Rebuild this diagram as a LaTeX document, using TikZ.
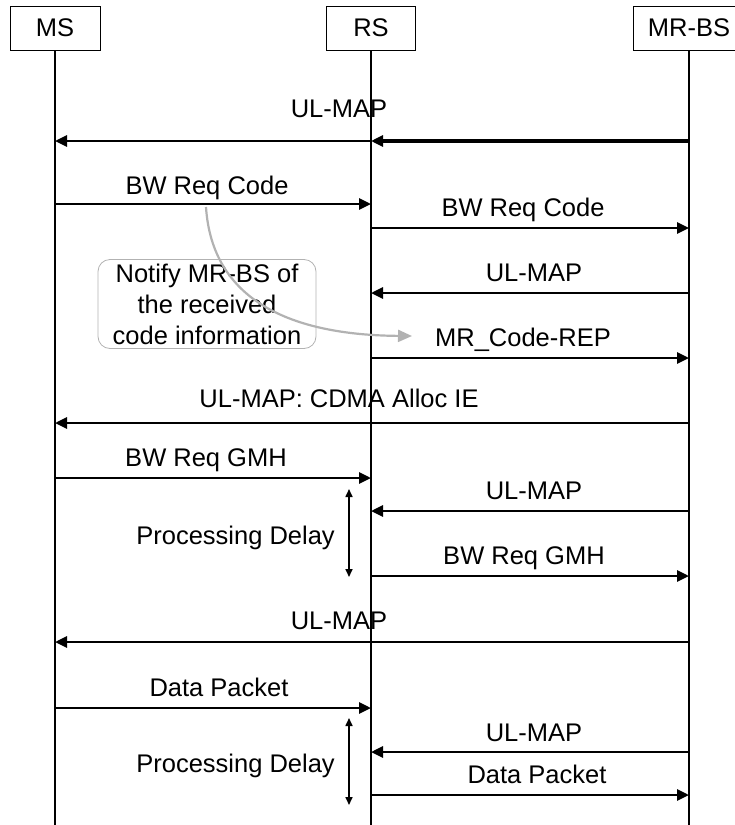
\documentclass[tikz,border=0pt]{standalone}
\usepackage{fontspec}
\setmainfont{Liberation Sans}
\usetikzlibrary{arrows.meta}
\definecolor{notegray}{RGB}{178,178,178}

\begin{document}
\begin{tikzpicture}[x=1pt,y=-1pt,
  entity/.style={draw,line width=0.8pt,minimum width=#1,minimum height=44pt,inner sep=0pt,font=\fontsize{25.5}{30}\selectfont},
  life/.style={line width=1.1pt},
  msg/.style={line width=2.8pt,-{Triangle[length=12pt,width=11pt]}},
  lbl/.style={anchor=base,inner sep=0pt,font=\fontsize{25.5}{30}\selectfont},
  delay/.style={line width=1.6pt,{Triangle[length=8pt,width=7pt]}-{Triangle[length=8pt,width=7pt]}},
  notebox/.style={draw=notegray,line width=0.8pt,rounded corners=12pt,minimum width=218pt,minimum height=89pt,inner sep=0pt,align=center,font=\fontsize{25.5}{31}\selectfont}]
  \useasboundingbox (0,0) rectangle (735,825);
  \clip (0,0) rectangle (735,825);
  % lifeline heads
  \node[entity=90pt] (ms) at (55,28) {MS};
  \node[entity=89pt] (rs) at (371,28) {RS};
  \node[entity=112pt] (bs) at (689,28) {MR-BS};
  % lifelines
  \coordinate (bottom) at (0,825);
  \foreach \h in {ms,bs} \draw[life] (\h.south) -- (\h.south |- bottom);
  \draw[life,line width=2pt] (rs.south) -- (rs.south |- bottom);
  % message points on each lifeline
  \foreach \n/\y in {1/141,2/204,3/228,4/293,5/358,6/423,7/478,8/511,9/576,10/642,11/708,12/752,13/795} {
    \coordinate (ms\n) at (55,\y);
    \coordinate (rs\n) at (371,\y);
    \coordinate (bs\n) at (689,\y);
  }
  % messages
  \draw[msg,line width=3.6pt] (bs1) -- (rs1);
  \draw[msg] (rs1) -- (ms1);
  \node[lbl] (l1) at (339,117) {UL-MAP};
  \draw[msg] (ms2) -- (rs2);
  \node[lbl] (l2) at (207,194) {BW Req Code};
  \draw[msg] (rs3) -- (bs3);
  \node[lbl] (l3) at (523,216) {BW Req Code};
  \draw[msg] (bs4) -- (rs4);
  \node[lbl] (l4) at (534,281) {UL-MAP};
  \draw[msg] (rs5) -- (bs5);
  \node[lbl] (l5) at (523,346) {MR\_Code-REP};
  \draw[msg] (bs6) -- (ms6);
  \node[lbl] (l6) at (339,407) {UL-MAP: CDMA Alloc IE};
  \draw[msg] (ms7) -- (rs7);
  \node[lbl] (l7) at (206,466) {BW Req GMH};
  \draw[msg] (bs8) -- (rs8);
  \node[lbl] (l8) at (534,499) {UL-MAP};
  \draw[msg] (rs9) -- (bs9);
  \node[lbl] (l9) at (524,564) {BW Req GMH};
  \draw[msg] (bs10) -- (ms10);
  \node[lbl] (l10) at (339,629) {UL-MAP};
  \draw[msg] (ms11) -- (rs11);
  \node[lbl] (l11) at (219,696) {Data Packet};
  \draw[msg] (bs12) -- (rs12);
  \node[lbl] (l12) at (534,741) {UL-MAP};
  \draw[msg] (rs13) -- (bs13);
  \node[lbl] (l13) at (537,783) {Data Packet};
  % note on the relayed code
  \node[notebox] (note) at (207,304) {Notify MR-BS of\\the received\\code information};
  \coordinate (cs) at (206,207);
  \coordinate (ce) at (412,336);
  \draw[notegray,line width=2.2pt,-{Triangle[length=14pt,width=12pt]}] (cs) .. controls (212,300) and (290,335) .. (ce);
  % processing delays
  \coordinate (d1a) at (349,489); \coordinate (d1b) at (349,577);
  \draw[delay] (d1a) -- (d1b);
  \node[lbl,anchor=base east] (pd1) at (335,544) {Processing Delay};
  \coordinate (d2a) at (349,718); \coordinate (d2b) at (349,805);
  \draw[delay] (d2a) -- (d2b);
  \node[lbl,anchor=base east] (pd2) at (335,772) {Processing Delay};
\end{tikzpicture}
\end{document}
